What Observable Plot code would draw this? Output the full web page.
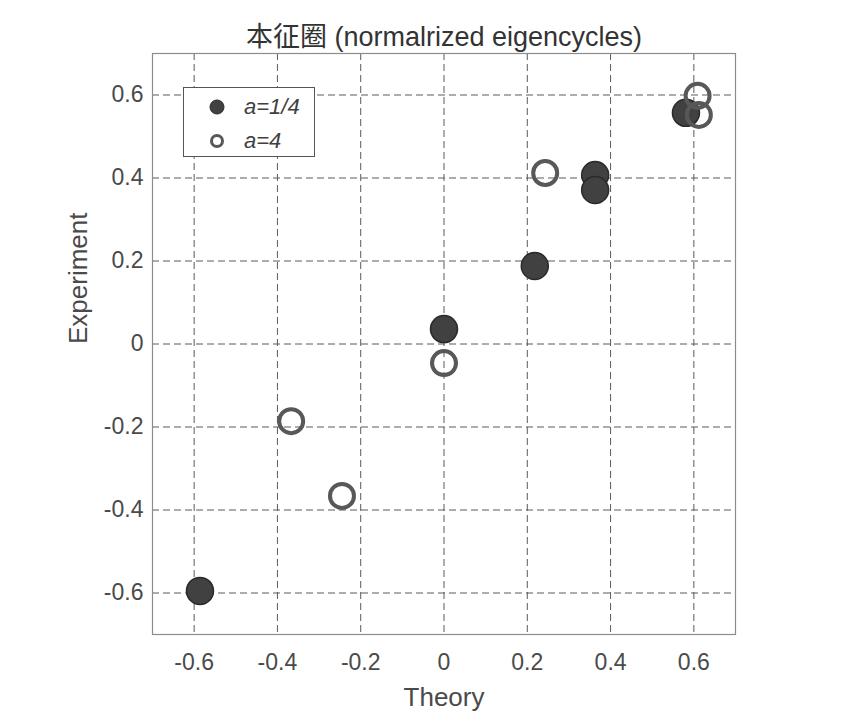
<!DOCTYPE html>
<html><head><meta charset="utf-8">
<script src="https://cdn.jsdelivr.net/npm/d3@7"></script>
<script src="https://cdn.jsdelivr.net/npm/@observablehq/plot@0.6"></script>
<style>
body{margin:0;background:#fff;}
#wrap{position:relative;width:856px;height:714px;}
#legend{position:absolute;left:183px;top:87px;width:132px;height:70px;border:1px solid #555;background:#fff;box-sizing:border-box;font-family:"Liberation Sans",Arial,sans-serif;font-size:22px;font-style:italic;color:#404040;}
.row{position:absolute;left:0;height:30px;display:flex;align-items:center;}
.row svg{margin-left:25px;margin-right:19px;}
</style>
</head><body>
<div id="wrap"><div id="legend"></div></div>
<script>
const titleText = "本征圈 (normalrized eigencycles)";
const xLabel = "Theory";
const yLabel = "Experiment";
const tickValues = [-0.6, -0.4, -0.2, 0, 0.2, 0.4, 0.6];
const seriesNames = ["a=1/4", "a=4"];
const quarterX = [-0.586, 0, 0.218, 0.363, 0.363, 0.581];
const quarterY = [-0.595, 0.036, 0.188, 0.407, 0.371, 0.557];
const fourX = [-0.367, -0.245, 0, 0.243, 0.609, 0.612];
const fourY = [-0.186, -0.366, -0.046, 0.412, 0.598, 0.552];

const quarter = quarterX.map((x, i) => ({x, y: quarterY[i]}));
const four = fourX.map((x, i) => ({x, y: fourY[i]}));
const fmt = d => String(+d.toFixed(1));
const font = '"Liberation Sans", Arial, "Noto Sans CJK SC", sans-serif';

const chart = Plot.plot({
  width: 856, height: 714,
  marginLeft: 152, marginRight: 121, marginTop: 53, marginBottom: 80,
  style: {fontFamily: font, color: "#404040", background: "#fff"},
  x: {domain: [-0.7, 0.7], ticks: tickValues, tickFormat: fmt},
  y: {domain: [-0.7, 0.7], ticks: tickValues, tickFormat: fmt},
  marks: [
    Plot.gridX(tickValues, {stroke: "#5a5a5a", strokeOpacity: 1, strokeWidth: 1, strokeDasharray: "7,4"}),
    Plot.gridY(tickValues, {stroke: "#5a5a5a", strokeOpacity: 1, strokeWidth: 1, strokeDasharray: "7,4"}),
    Plot.frame({stroke: "#8c8c8c", strokeWidth: 1.2}),
    Plot.axisX(tickValues, {tickSize: 0, tickPadding: 19, fontSize: 23, tickFormat: fmt, label: null, fill: "#4a4a4a"}),
    Plot.axisY(tickValues, {tickSize: 0, tickPadding: 9, fontSize: 23, tickFormat: fmt, label: null, fill: "#4a4a4a"}),
    Plot.dot(quarter, {x: "x", y: "y", r: 13.5, fill: "#414141", stroke: "#2a2a2a", strokeWidth: 1.5}),
    Plot.dot(four, {x: "x", y: "y", r: 12, fill: "none", stroke: "#585858", strokeWidth: 4}),
    Plot.text([titleText], {frameAnchor: "top", lineAnchor: "middle", dy: -16, fontSize: 27, fill: "#333"}),
    Plot.text([xLabel], {frameAnchor: "bottom", lineAnchor: "middle", dy: 63, fontSize: 26, fill: "#4a4a4a"}),
    Plot.text([yLabel], {frameAnchor: "left", lineAnchor: "middle", dx: -74, rotate: -90, fontSize: 26, fill: "#4a4a4a"})
  ]
});
const wrap = document.getElementById("wrap");
wrap.insertBefore(chart, wrap.firstChild);

const legend = document.getElementById("legend");
const markers = [
  '<svg width="16" height="16"><circle cx="8" cy="8" r="7" fill="#414141" stroke="#2a2a2a" stroke-width="1"/></svg>',
  '<svg width="16" height="16"><circle cx="8" cy="8" r="5.5" fill="none" stroke="#585858" stroke-width="3"/></svg>'
];
seriesNames.forEach((name, i) => {
  const row = document.createElement("div");
  row.className = "row";
  row.style.top = (4 + i * 34) + "px";
  row.innerHTML = markers[i] + "<span>" + name + "</span>";
  legend.appendChild(row);
});
</script>
</body></html>
